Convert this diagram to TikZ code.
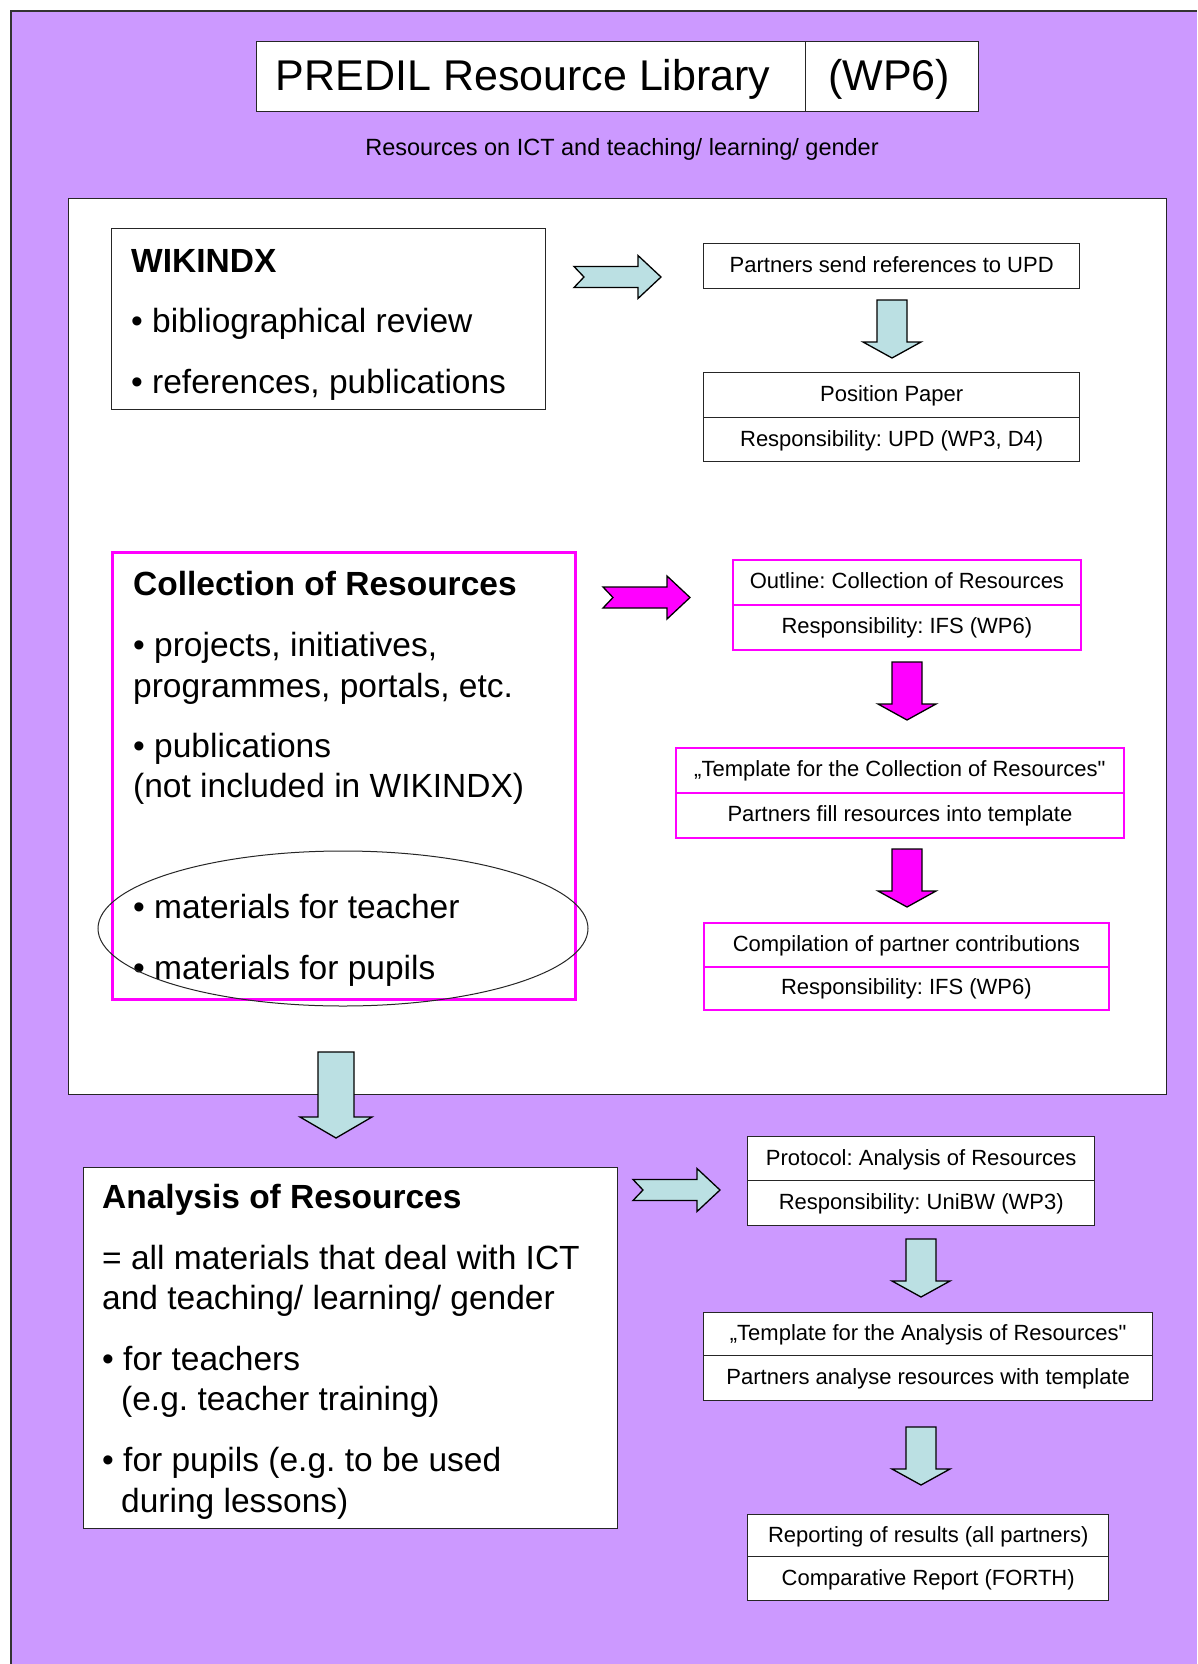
\documentclass[tikz,border=0pt]{standalone}
\usepackage{fontspec}
\setmainfont{Liberation Sans}
\newfontfamily\nomap[Ligatures=TeXOff]{Liberation Sans}
\newcommand\sq{{\nomap"}}
\definecolor{bgpurple}{RGB}{204,153,255}
\definecolor{arrowblue}{RGB}{187,224,227}
\definecolor{mag}{RGB}{255,0,255}
\tikzset{
  rarrow/.pic={\draw[pic actions, line width=1.3pt, line join=miter]
      (0,-10.5) -- (64,-10.5) -- (64,-21.5) -- (87,0) -- (64,21.5) -- (64,10.5) -- (0,10.5) -- (10,0) -- cycle;},
  darrow/.pic={\draw[pic actions, line width=1.3pt, line join=miter]
      (-15,0) -- (15,0) -- (15,42) -- (29,42) -- (0,58) -- (-29,42) -- (-15,42) -- cycle;},
  bigdarrow/.pic={\draw[pic actions, line width=1.3pt, line join=miter]
      (-18,0) -- (18,0) -- (18,65) -- (36,65) -- (0,86) -- (-36,65) -- (-18,65) -- cycle;},
}
\begin{document}
\frenchspacing
\begin{tikzpicture}[x=1pt,y=-1pt,
  cell/.style={draw=black!85, line width=1.4pt, fill=white, inner sep=0pt, anchor=north west,
    font=\fontsize{22}{26}\selectfont, text height=16pt, text depth=3pt},
  mcell/.style={cell, draw=mag, line width=1.8pt},
  panel/.style={draw=black!85, line width=1.4pt, fill=white, inner sep=0pt, anchor=north west},
  bigtxt/.style={anchor=base west, inner sep=0pt, font=\fontsize{33.5}{40}\selectfont},
  bigbold/.style={anchor=base west, inner sep=0pt, font=\fontsize{33.5}{40}\selectfont\bfseries},
  titlecell/.style={cell, minimum height=70pt, font=\fontsize{43}{50}\selectfont, text height=36pt, text depth=8pt},
]
\useasboundingbox (0,0) rectangle (1197,1664);
\fill[white] (0,0) rectangle (1197,1664);
% purple background
\fill[bgpurple] (11,11) rectangle (1197,1664);
\draw[black!80, line width=1.4pt] (11,1664) -- (11,11) -- (1197,11);

% title
\node[titlecell, minimum width=549pt] (title) at (256,41) {PREDIL Resource Library\hspace*{16pt}};
\node[titlecell, minimum width=173pt] (wp) at (805,41) {(WP6)\hspace*{6pt}};
\node[inner sep=0pt, font=\fontsize{23.5}{28}\selectfont] (sub) at (622,149) {Resources on ICT and teaching/ learning/ gender};

% white panel
\node[panel, minimum width=1098pt, minimum height=896pt] (panelw) at (68,198) {};

% WIKINDX box
\node[panel, minimum width=434pt, minimum height=181pt] (wbox) at (111,228) {};
\node[bigbold] (w1) at (131,272) {WIKINDX};
\node[bigtxt] (w2) at (131,332) {\textbullet\ bibliographical review};
\node[bigtxt] (w3) at (131,393) {\textbullet\ references, publications};

% arrow 1 and right column top
\pic[fill=arrowblue] (ar1) at (574,277) {rarrow};
\node[cell, minimum width=376pt, minimum height=45pt] (partners) at (703,243) {Partners send references to UPD};
\pic[fill=arrowblue] (da1) at (892,300) {darrow};
\node[cell, minimum width=376pt, minimum height=45pt] (pp1) at (703,372) {Position Paper};
\node[cell, minimum width=376pt, minimum height=44pt] (pp2) at (703,417) {Responsibility: UPD (WP3, D4)};

% Collection box
\node[panel, draw=mag, line width=3pt, minimum width=463pt, minimum height=447pt] (coll) at (111,551) {};
\node[bigbold] (c1) at (133,595) {Collection of Resources};
\node[bigtxt] (c2) at (133,656) {\textbullet\ projects, initiatives,};
\node[bigtxt] (c3) at (133,697) {programmes, portals, etc.};
\node[bigtxt] (c4) at (133,757) {\textbullet\ publications};
\node[bigtxt] (c5) at (133,797) {(not included in WIKINDX)};
\node[bigtxt] (c6) at (133,918) {\textbullet\ materials for teacher};
\node[bigtxt] (c7) at (133,979) {\textbullet\ materials for pupils};
\draw[black!85, line width=1pt] (343,928.5) ellipse [x radius=245pt, y radius=77.5pt];

% magenta chain
\pic[fill=mag] (ar2) at (603,597.5) {rarrow};
\node[mcell, minimum width=348pt, minimum height=45pt] (out1) at (732,559) {Outline: Collection of Resources};
\node[mcell, minimum width=348pt, minimum height=45pt] (out2) at (732,604) {Responsibility: IFS (WP6)};
\pic[fill=mag] (dm1) at (907,662) {darrow};
\node[mcell, minimum width=448pt, minimum height=45pt] (tc1) at (675,747) {„Template for the Collection of Resources\sq};
\node[mcell, minimum width=448pt, minimum height=45pt] (tc2) at (675,792) {Partners fill resources into template};
\pic[fill=mag] (dm2) at (907,849) {darrow};
\node[mcell, minimum width=405pt, minimum height=44pt] (comp1) at (703,922) {Compilation of partner contributions};
\node[mcell, minimum width=405pt, minimum height=43pt] (comp2) at (703,966) {Responsibility: IFS (WP6)};

% big down arrow
\pic[fill=arrowblue] (bigd) at (336,1052) {bigdarrow};

% Analysis box
\node[panel, minimum width=534pt, minimum height=361pt] (abox) at (83,1167) {};
\node[bigbold] (a1) at (102,1208) {Analysis of Resources};
\node[bigtxt] (a2) at (102,1269) {= all materials that deal with ICT};
\node[bigtxt] (a3) at (102,1309) {and teaching/ learning/ gender};
\node[bigtxt] (a4) at (102,1370) {\textbullet\ for teachers};
\node[bigtxt] (a5) at (121,1410) {(e.g. teacher training)};
\node[bigtxt] (a6) at (102,1471) {\textbullet\ for pupils (e.g. to be used};
\node[bigtxt] (a7) at (121,1512) {during lessons)};

% bottom right chain
\pic[fill=arrowblue] (ar3) at (633,1190) {rarrow};
\node[cell, minimum width=347pt, minimum height=44pt] (pr1) at (747,1136) {Protocol: Analysis of Resources};
\node[cell, minimum width=347pt, minimum height=45pt] (pr2) at (747,1180) {Responsibility: UniBW (WP3)};
\pic[fill=arrowblue] (da3) at (921,1239) {darrow};
\node[cell, minimum width=449pt, minimum height=43pt] (ta1) at (703,1312) {„Template for the Analysis of Resources\sq};
\node[cell, minimum width=449pt, minimum height=45pt] (ta2) at (703,1355) {Partners analyse resources with template};
\pic[fill=arrowblue] (da4) at (921,1427) {darrow};
\node[cell, minimum width=361pt, minimum height=42pt] (rep1) at (747,1514) {Reporting of results (all partners)};
\node[cell, minimum width=361pt, minimum height=44pt] (rep2) at (747,1556) {Comparative Report (FORTH)};
\end{tikzpicture}
\end{document}
